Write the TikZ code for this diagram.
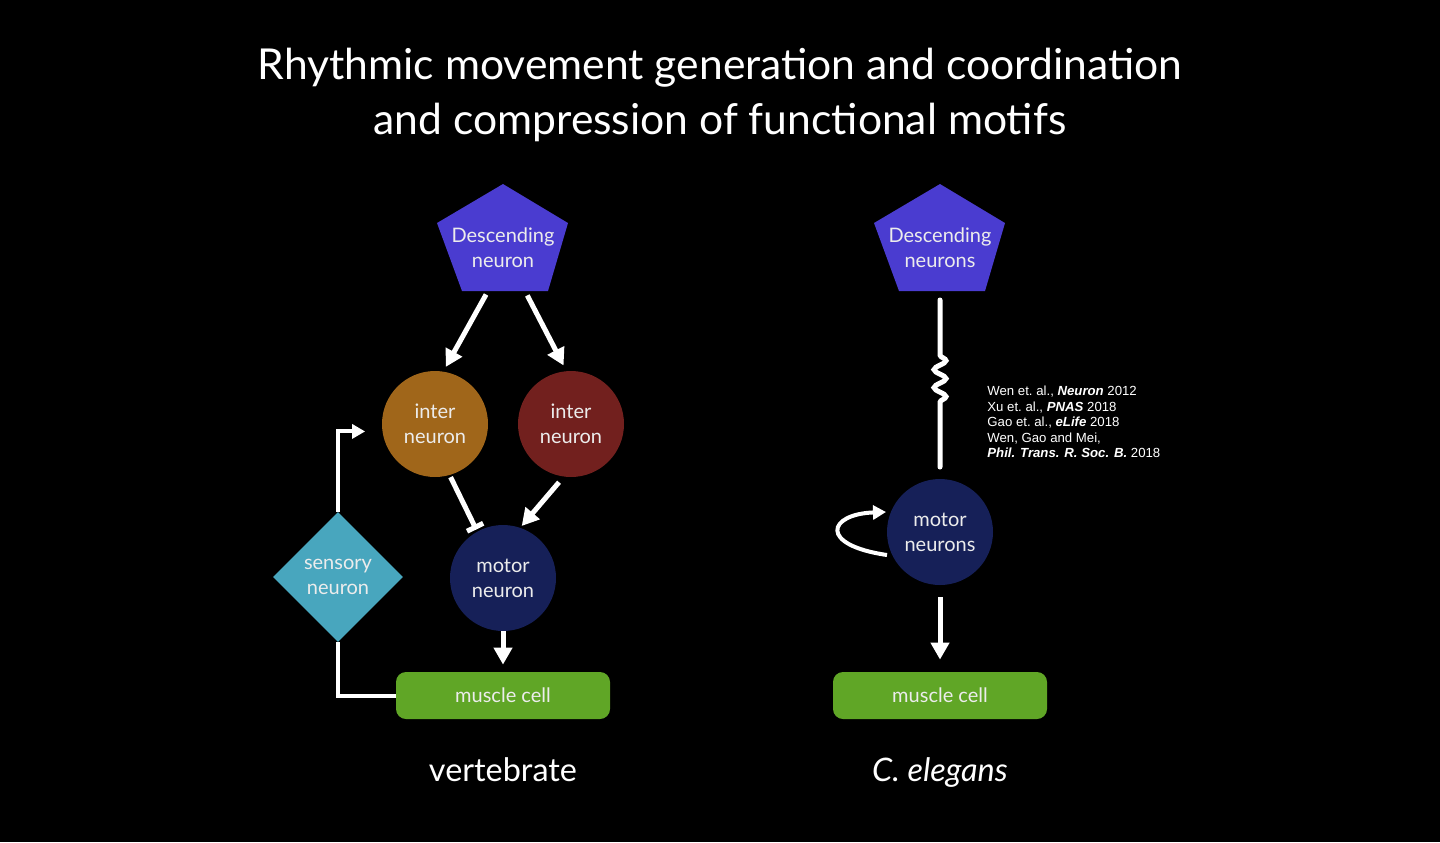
\documentclass[tikz,border=0pt]{standalone}
\usepackage{fontspec}
\setmainfont{Lato}
\newfontfamily\reffont{Liberation Sans}
\usetikzlibrary{arrows.meta,calc,shapes.geometric,decorations.pathmorphing}

\definecolor{descblue}{RGB}{74,60,208}
\definecolor{interorange}{RGB}{160,102,26}
\definecolor{interred}{RGB}{114,32,30}
\definecolor{motornavy}{RGB}{22,32,88}
\definecolor{sensoryteal}{RGB}{72,166,190}
\definecolor{musclegreen}{RGB}{96,166,38}
\definecolor{labeltext}{RGB}{236,236,236}

\tikzset{
  nodetext/.style={text=labeltext, align=center, font=\fontsize{10}{12.5}\selectfont},
  cell/.style={nodetext, circle, minimum size=53pt, inner sep=0pt},
  musclebox/.style={nodetext, rectangle, rounded corners=5pt, fill=musclegreen,
    minimum width=107pt, minimum height=23.5pt, inner sep=0pt},
  wire/.style={draw=white, line width=2.5pt},
  excite/.style={wire, -{Triangle[length=8.5pt,width=9pt]}},
  inhibit/.style={wire, -{Bar[width=9pt]}},
  thinwire/.style={draw=white, line width=2pt, -{Triangle[length=6.5pt,width=7pt]}},
  caption/.style={text=white, anchor=base, inner sep=0pt, font=\fontsize{16.2}{19}\selectfont},
}

\begin{document}
\begin{tikzpicture}[x=0.5pt,y=-0.5pt]
  % canvas
  \fill[black] (0,0) rectangle (1440,842);
  \useasboundingbox (0,0) rectangle (1440,842);

  % title
  \node[text=white, align=center, font=\fontsize{21.3}{27.5}\selectfont] (title) at (720,95)
    {Rhythmic movement generation and coordination\\and compression of functional motifs};

  % ---------------- vertebrate circuit ----------------
  \fill[descblue] (503,184) -- (568,223) -- (548,291) -- (462,291) -- (437,223) -- cycle;
  \node[nodetext] (descL) at (503,247.5) {Descending\\neuron};
  \coordinate (descLa) at (488,291);
  \coordinate (descLb) at (525,291);

  \node[cell, fill=interorange] (interA) at (435,424) {inter\\neuron};
  \node[cell, fill=interred] (interB) at (571,424) {inter\\neuron};
  \node[cell, fill=motornavy] (motorL) at (503,578) {motor\\neuron};
  \node[nodetext, diamond, aspect=1, fill=sensoryteal, minimum width=65pt,
        minimum height=65pt, inner sep=0pt] (sensory) at (338,577) {sensory\\neuron};
  \node[musclebox] (muscleL) at (503,695.5) {muscle cell};

  \draw[excite, shorten <=2pt, shorten >=2.5pt] (descLa) -- (interA.81);
  \draw[excite, shorten <=2.5pt, shorten >=3pt] (descLb) -- (interB.95);
  \draw[inhibit, shorten <=1pt, shorten >=1pt] (interA.-74) -- (motorL.119);
  \draw[excite, shorten <=3.5pt, shorten >=1pt] (interB.-98) -- (motorL.71);
  \draw[excite, shorten >=3.5pt] (motorL.south) -- (muscleL.north);
  \draw[thinwire, shorten >=8.5pt] (sensory.north) |- (interA.188);
  \draw[draw=white, line width=2pt] (sensory.south) |- (muscleL.west);

  \node[caption] (vert) at (503,781) {vertebrate};

  % ---------------- C. elegans circuit ----------------
  \fill[descblue] (940,184) -- (1005,223) -- (985,291) -- (899,291) -- (874,223) -- cycle;
  \node[nodetext] (descR) at (940,247.5) {Descending\\neurons};
  \coordinate (descRb) at (940,300);

  \node[cell, fill=motornavy] (motorR) at (940,532) {motor\\neurons};
  \node[musclebox] (muscleR) at (940,695.5) {muscle cell};
  \coordinate (motorRt) at (940,467);

  % gap-junction coupling drawn as a wavy wire
  \draw[wire, line cap=round, decorate,
        decoration={snake, amplitude=3pt, segment length=9pt,
                    pre length=27.5pt, post length=28.5pt}]
    (descRb) -- (motorRt);

  % recurrent self connection
  \coordinate (loopA) at (887,555);
  \coordinate (loopB) at (886,512);
  \draw[thinwire] (loopA) .. controls (818,545) and (828,514) .. (loopB);

  \draw[excite, shorten <=6pt, shorten >=6pt] (motorR.south) -- (muscleR.north);

  \node[caption, font=\fontsize{16.2}{19}\selectfont\itshape] (eleg) at (940,781) {C. elegans};

  % references
  \node[text=white, anchor=north west, align=left, inner sep=0pt,
        font=\reffont\fontsize{6.6}{7.75}\selectfont] (refs) at (987,386)
    {Wen et.\ al., \textbf{\textit{Neuron}} 2012\\
     Xu et.\ al., \textbf{\textit{PNAS}} 2018\\
     Gao et.\ al., \textbf{\textit{eLife}} 2018\\
     Wen, Gao and Mei,\\
     \textbf{\textit{Phil. Trans. R. Soc. B.}} 2018};
\end{tikzpicture}
\end{document}
